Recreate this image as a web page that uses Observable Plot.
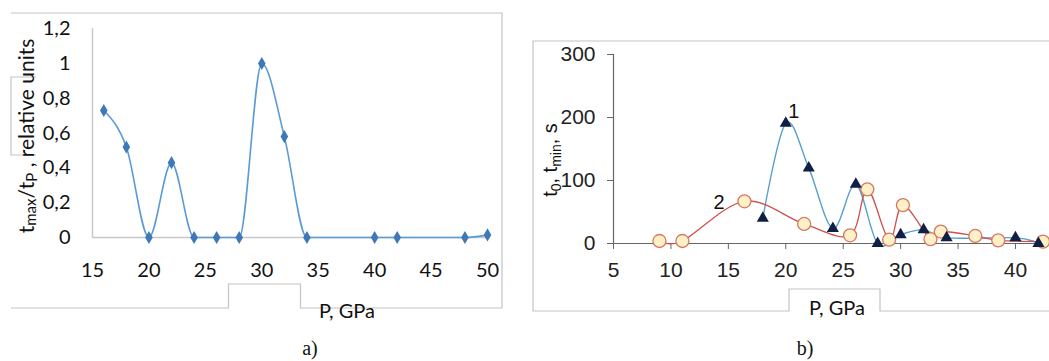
<!DOCTYPE html>
<html><head><meta charset="utf-8">
<script src="https://cdn.jsdelivr.net/npm/d3@7"></script>
<script src="https://cdn.jsdelivr.net/npm/@observablehq/plot@0.6"></script>
<style>
html,body{margin:0;padding:0;background:#fff;}
#wrap{position:relative;width:1049px;height:361px;overflow:hidden;background:#fff;}
#pa{position:absolute;left:0;top:0;width:520px;}
#pb{position:absolute;left:520px;top:0;width:600px;}
#wrap svg{max-width:none !important;}
#ov{position:absolute;left:0;top:0;pointer-events:none;}
</style></head>
<body>
<div id="wrap">
  <div id="pa"></div>
  <div id="pb"></div>
  <svg id="ov" width="1049" height="361">
    <g fill="none" stroke="#c4c4c4" stroke-width="1.2">
      <path d="M11,13H502V308H300.5V284H228.5V308H11"/>
      <path d="M36,77H11V155H36"/>
      <path d="M1052,41H533V311H789V289H880V311H1052"/>
    </g>
    <text transform="translate(34,136) rotate(-90)" text-anchor="middle" font-family="Lato" font-size="21" fill="#111">t<tspan font-size="15" dy="2">max</tspan><tspan dy="-2">/t</tspan><tspan font-size="15" dy="3">P</tspan><tspan dy="-3"> , relative units</tspan></text>
    <text transform="translate(557,160) rotate(-90)" text-anchor="middle" font-family="Liberation Sans, Arial" font-size="20" fill="#111">t<tspan font-size="14" dy="4">0</tspan><tspan dy="-4">, t</tspan><tspan font-size="14" dy="4">min</tspan><tspan dy="-4">, s</tspan></text>
    <text x="347" y="318" text-anchor="middle" font-family="Lato" font-size="20" fill="#111">P, GPa</text>
    <text x="837" y="315" text-anchor="middle" font-family="Lato" font-size="20" fill="#111">P, GPa</text>
    <text x="310" y="355" text-anchor="middle" font-family="Liberation Serif, Times New Roman" font-size="20" fill="#111">a)</text>
    <text x="805" y="355" text-anchor="middle" font-family="Liberation Serif, Times New Roman" font-size="20" fill="#111">b)</text>
  </svg>
</div>
<script>
// Panel a data
const aPressure = [16, 18, 20, 22, 24, 26, 28, 30, 32, 34, 40, 42, 48, 50];
const aRatio = [0.73, 0.52, 0, 0.43, 0, 0, 0, 1.0, 0.58, 0, 0, 0, 0, 0.015];
const aXTicks = [15, 20, 25, 30, 35, 40, 45, 50];
const aYTicks = [0, 0.2, 0.4, 0.6, 0.8, 1, 1.2];

// Panel b data
const s1Pressure = [18, 20, 22, 24.1, 26.1, 28, 30, 32, 34, 40, 42];
const s1Time = [40, 191, 120, 24, 94, 0, 14, 22, 9, 9, 0];
const s2Pressure = [9, 11, 16.4, 21.6, 25.6, 27.1, 29, 30.2, 32.6, 33.5, 36.5, 38.5, 42.4];
const s2Time = [4, 4, 67, 31, 13, 86, 6, 61, 7, 19, 12, 5, 3];
const bXTicks = [5, 10, 15, 20, 25, 30, 35, 40];
const bYTicks = [0, 100, 200, 300];
const bLabels = ["1", "2"];
const bLabelP = [20.7, 14.2];
const bLabelT = [210, 65];

const aData = aPressure.map((p, i) => ({p, v: aRatio[i]}));
const s1 = s1Pressure.map((p, i) => ({p, v: s1Time[i]}));
const s2 = s2Pressure.map((p, i) => ({p, v: s2Time[i]}));
const lab = bLabels.map((t, i) => ({t, p: bLabelP[i], v: bLabelT[i]}));

const plotA = Plot.plot({
  width: 520, height: 361,
  marginLeft: 92, marginRight: 33, marginTop: 28.2, marginBottom: 124,
  x: {domain: [15, 50], label: null},
  y: {domain: [0, 1.2], label: null},
  style: {fontFamily: "Lato", fontSize: "20px", color: "#111", background: "transparent", overflow: "visible"},
  marks: [
    Plot.ruleX([aXTicks[0]], {stroke: "#c8c8c8", strokeWidth: 1.5}),
    Plot.ruleY([0], {stroke: "#c8c8c8", strokeWidth: 1.5}),
    Plot.axisX({ticks: aXTicks, tickSize: 0, tickPadding: 25, label: null, fontSize: 20}),
    Plot.axisY({ticks: aYTicks, tickSize: 0, tickPadding: 22, label: null, fontSize: 20,
      tickFormat: d => String(d).replace(".", ",")}),
    Plot.line(aData, {x: "p", y: "v", curve: "monotone-x", stroke: "#5b9bd5", strokeWidth: 1.6}),
    Plot.dot(aData, {x: "p", y: "v", symbol: "diamond", fill: "#3f78b8", r: 4})
  ]
});
document.getElementById("pa").appendChild(plotA);

const plotB = Plot.plot({
  width: 600, height: 361,
  marginLeft: 93, marginRight: 47.6, marginTop: 54, marginBottom: 118,
  x: {domain: [5, 45], label: null},
  y: {domain: [0, 300], label: null},
  style: {fontFamily: "Liberation Sans, Arial", fontSize: "21px", color: "#222", background: "transparent", overflow: "visible"},
  marks: [
    Plot.ruleX([bXTicks[0]], {stroke: "#666", strokeWidth: 1.2}),
    Plot.ruleY([0], {stroke: "#666", strokeWidth: 1.2}),
    Plot.axisX({ticks: bXTicks, tickSize: 6, tickPadding: 13, label: null, stroke: "#666", fontSize: 21}),
    Plot.axisY({ticks: bYTicks, tickSize: 6, tickPadding: 12, label: null, stroke: "#666", fontSize: 21}),
    Plot.line(s1, {x: "p", y: "v", curve: "cardinal", stroke: "#5aa0cf", strokeWidth: 1.4}),
    Plot.line(s2, {x: "p", y: "v", curve: "cardinal", stroke: "#d0504d", strokeWidth: 1.3}),
    Plot.dot(s2, {x: "p", y: "v", symbol: "circle", r: 6.5, fill: "#fff0c8", stroke: "#d47a62", strokeWidth: 1.3}),
    Plot.dot(s1, {x: "p", y: "v", symbol: "triangle", r: 4.5, fill: "#0f1f45"}),
    Plot.text(lab, {x: "p", y: "v", text: "t", fontSize: 20, fill: "#111"})
  ]
});
document.getElementById("pb").appendChild(plotB);
</script>
</body></html>
